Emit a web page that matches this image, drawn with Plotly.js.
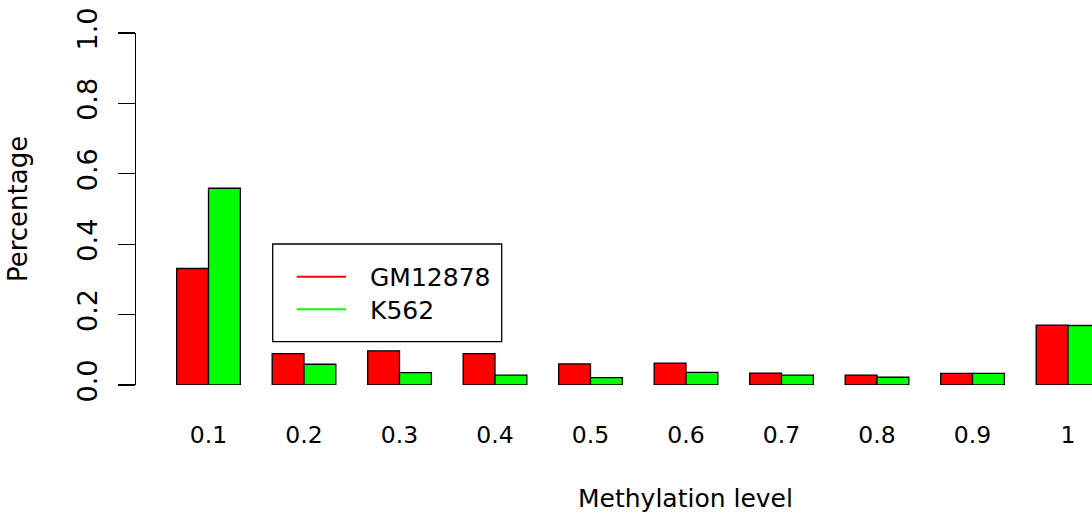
<!DOCTYPE html>
<html>
<head>
<meta charset="utf-8">
<script src="https://cdn.plot.ly/plotly-3.0.1.min.js"></script>
<style>
  html, body { margin: 0; padding: 0; background: #ffffff; overflow: hidden; }
  #chart { width: 1092px; height: 514px; }
</style>
</head>
<body>
<div id="chart"></div>
<script>
// Methylation level bins and the share of sites falling in each bin
const levels = ['0.1', '0.2', '0.3', '0.4', '0.5', '0.6', '0.7', '0.8', '0.9', '1'];
const gm12878 = [0.331, 0.089, 0.097, 0.089, 0.060, 0.062, 0.034, 0.028, 0.033, 0.170];
const k562 = [0.559, 0.059, 0.035, 0.028, 0.021, 0.036, 0.028, 0.022, 0.033, 0.169];
const seriesNames = ['GM12878', 'K562'];
const seriesColors = ['#ff0000', '#00ff00'];
const yTicks = [0, 0.2, 0.4, 0.6, 0.8, 1.0];

const FONT = 'DejaVu Sans, Liberation Sans, Arial, sans-serif';

// plot area in page pixels; helpers turn pixel positions into paper fractions
const area = { left: 136, right: 1092, top: 33, bottom: 385 };
const fx = p => (p - area.left) / (area.right - area.left);
const fy = p => (area.bottom - p) / (area.bottom - area.top);

const barStyle = color => ({ color: color, line: { color: '#000000', width: 1.3 } });

const traces = [
  { type: 'bar', name: seriesNames[0], x: levels, y: gm12878, marker: barStyle(seriesColors[0]), showlegend: false, hoverinfo: 'x+y+name' },
  { type: 'bar', name: seriesNames[1], x: levels, y: k562, marker: barStyle(seriesColors[1]), showlegend: false, hoverinfo: 'x+y+name' }
];

// boxed legend with line keys
const legendBox = { x0: 272.7, x1: 501.7, y0: 244, y1: 341.7 };
const keyRows = [276.7, 309.3];
const shapes = [
  { type: 'rect', xref: 'paper', yref: 'paper',
    x0: fx(legendBox.x0), x1: fx(legendBox.x1), y0: fy(legendBox.y1), y1: fy(legendBox.y0),
    line: { color: '#000000', width: 1.3 }, fillcolor: '#ffffff', layer: 'above' }
];
const annotations = [];
seriesNames.forEach((name, i) => {
  shapes.push({ type: 'line', xref: 'paper', yref: 'paper',
    x0: fx(296.7), x1: fx(346), y0: fy(keyRows[i]), y1: fy(keyRows[i]),
    line: { color: seriesColors[i], width: 2 }, layer: 'above' });
  annotations.push({ xref: 'paper', yref: 'paper', x: fx(368), y: fy(keyRows[i] + 1),
    xanchor: 'left', yanchor: 'middle', showarrow: false, text: name,
    font: { family: FONT, size: 25, color: '#000000' } });
});

// x axis title, centred on the full drawing region
annotations.push({ xref: 'paper', yref: 'paper', x: fx(685), y: fy(499),
  xanchor: 'center', yanchor: 'middle', showarrow: false, text: 'Methylation level',
  font: { family: FONT, size: 25, color: '#000000' } });

const layout = {
  width: 1092,
  height: 514,
  margin: { l: area.left, r: 1092 - area.right, t: area.top, b: 514 - area.bottom, pad: 0 },
  paper_bgcolor: '#ffffff',
  plot_bgcolor: '#ffffff',
  barmode: 'group',
  bargap: 1 / 3,
  bargroupgap: 0,
  showlegend: false,
  font: { family: FONT, color: '#000000' },
  xaxis: {
    type: 'category',
    range: [(136 - 208.5) / 95.5, (1092 - 208.5) / 95.5],
    showline: false, showgrid: false, zeroline: false,
    ticks: '', ticklabelstandoff: 33,
    tickfont: { family: FONT, size: 23.5, color: '#000000' },
    fixedrange: true
  },
  yaxis: {
    range: [0, 1],
    tickvals: yTicks,
    ticktext: yTicks.map(v => v.toFixed(1)),
    tickangle: -90,
    showline: true, linecolor: '#000000', linewidth: 1.3,
    ticks: 'outside', ticklen: 17, tickwidth: 1.3, tickcolor: '#000000',
    ticklabelstandoff: 10,
    showgrid: false, zeroline: false,
    tickfont: { family: FONT, size: 27, color: '#000000' },
    title: { text: 'Percentage', standoff: 36, font: { family: FONT, size: 26, color: '#000000' } },
    automargin: false,
    fixedrange: true
  },
  shapes: shapes,
  annotations: annotations
};

Plotly.newPlot('chart', traces, layout, { displayModeBar: false, staticPlot: true });
</script>
</body>
</html>
